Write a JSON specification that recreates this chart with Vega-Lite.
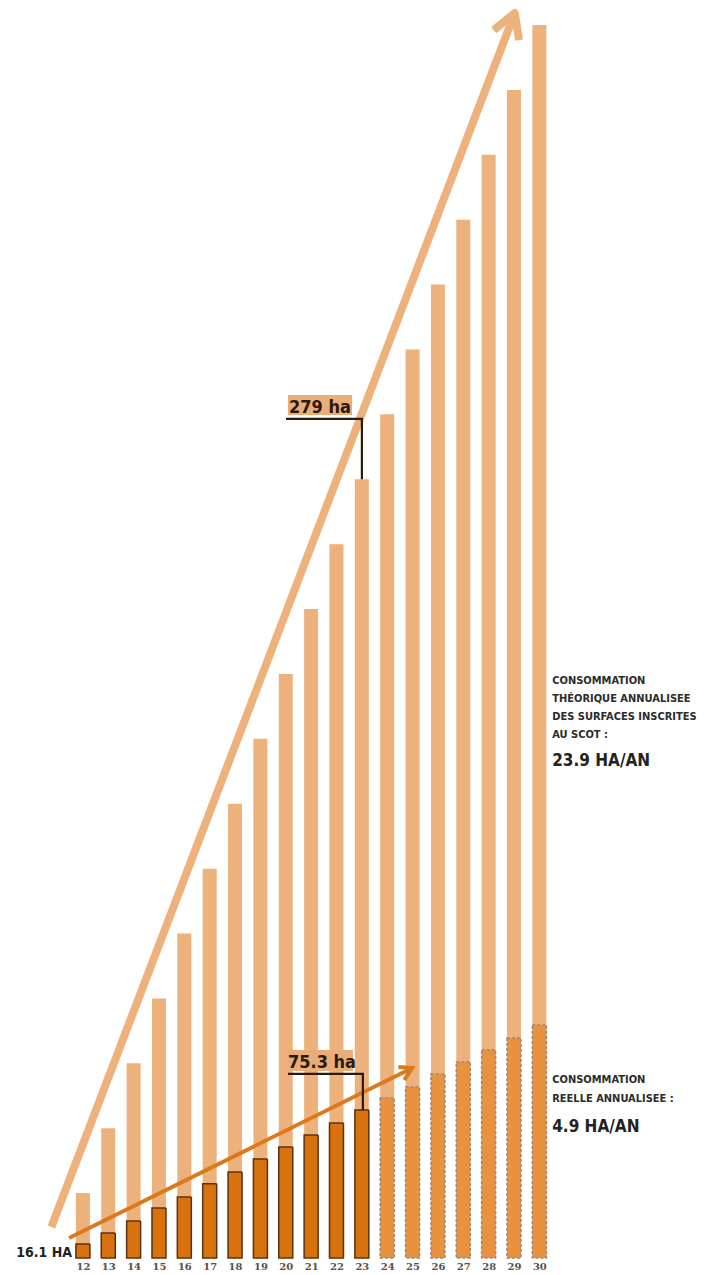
{
  "$schema": "https://vega.github.io/schema/vega-lite/v6.json",
  "width": 711,
  "height": 1275,
  "padding": 0,
  "autosize": {"type": "none"},
  "background": "white",
  "config": {"view": {"stroke": null}},
  "datasets": {
    "bars": [
      {"year": 12, "theo": 23.9, "real": 5.2, "phase": "réel"},
      {"year": 13, "theo": 47.8, "real": 9.2, "phase": "réel"},
      {"year": 14, "theo": 71.7, "real": 13.6, "phase": "réel"},
      {"year": 15, "theo": 95.6, "real": 18.4, "phase": "réel"},
      {"year": 16, "theo": 119.5, "real": 22.5, "phase": "réel"},
      {"year": 17, "theo": 143.4, "real": 27.3, "phase": "réel"},
      {"year": 18, "theo": 167.3, "real": 31.7, "phase": "réel"},
      {"year": 19, "theo": 191.2, "real": 36.5, "phase": "réel"},
      {"year": 20, "theo": 215.1, "real": 40.9, "phase": "réel"},
      {"year": 21, "theo": 239.0, "real": 45.3, "phase": "réel"},
      {"year": 22, "theo": 262.9, "real": 49.7, "phase": "réel"},
      {"year": 23, "theo": 286.8, "real": 54.5, "phase": "réel"},
      {"year": 24, "theo": 310.7, "real": 58.9, "phase": "projection"},
      {"year": 25, "theo": 334.6, "real": 63.0, "phase": "projection"},
      {"year": 26, "theo": 358.5, "real": 67.8, "phase": "projection"},
      {"year": 27, "theo": 382.4, "real": 72.2, "phase": "projection"},
      {"year": 28, "theo": 406.3, "real": 76.6, "phase": "projection"},
      {"year": 29, "theo": 430.2, "real": 81.0, "phase": "projection"},
      {"year": 30, "theo": 454.1, "real": 85.8, "phase": "projection"}
    ],
    "arrows": [
      {"grp": "theo_shaft", "ord": 1, "x": 10.756, "y": 11.4},
      {"grp": "theo_shaft", "ord": 2, "x": 29.03, "y": 458.5},
      {"grp": "theo_head", "ord": 1, "x": 28.2, "y": 452.2},
      {"grp": "theo_head", "ord": 2, "x": 29.03, "y": 458.5},
      {"grp": "theo_head", "ord": 3, "x": 29.2, "y": 448.5},
      {"grp": "real_shaft", "ord": 1, "x": 11.456, "y": 7.37},
      {"grp": "real_shaft", "ord": 2, "x": 24.986, "y": 69.97},
      {"grp": "real_head", "ord": 1, "x": 24.44, "y": 70.3},
      {"grp": "real_head", "ord": 2, "x": 24.986, "y": 69.97},
      {"grp": "real_head", "ord": 3, "x": 24.675, "y": 65.55}
    ],
    "brackets": [
      {"grp": "b279", "ord": 1, "x": 20.009, "y": 309.0},
      {"grp": "b279", "ord": 2, "x": 23.003, "y": 309.0},
      {"grp": "b279", "ord": 3, "x": 23.003, "y": 286.8},
      {"grp": "b75", "ord": 1, "x": 20.087, "y": 67.8},
      {"grp": "b75", "ord": 2, "x": 23.04, "y": 67.8},
      {"grp": "b75", "ord": 3, "x": 23.04, "y": 54.5}
    ],
    "boxes": [
      {"x": 20.087, "x2": 22.614, "y": 310.5, "y2": 317.8},
      {"x": 20.087, "x2": 22.65, "y": 68.9, "y2": 76.6}
    ],
    "labels": [
      {"x": 20.126, "y": 311.2, "text": "279 ha"},
      {"x": 20.087, "y": 70.0, "text": "75.3 ha"}
    ],
    "notes": [
      {"x": 30.507, "y": 211.4, "text": "CONSOMMATION"},
      {"x": 30.507, "y": 204.8, "text": "THÉORIQUE ANNUALISEE"},
      {"x": 30.507, "y": 198.1, "text": "DES SURFACES INSCRITES"},
      {"x": 30.507, "y": 191.5, "text": "AU SCOT :"},
      {"x": 30.507, "y": 64.4, "text": "CONSOMMATION"},
      {"x": 30.507, "y": 57.5, "text": "REELLE ANNUALISEE :"}
    ],
    "bignotes": [
      {"x": 30.507, "y": 181.2, "text": "23.9 HA/AN"},
      {"x": 30.507, "y": 46.4, "text": "4.9 HA/AN"}
    ],
    "start": [
      {"x": 11.572, "y": 0.4, "text": "16.1 HA"}
    ]
  },
  "encoding": {
    "x": {
      "field": "x",
      "type": "quantitative",
      "scale": {"domain": [8.928, 36.572], "nice": false, "zero": false},
      "axis": {
        "values": [12, 13, 14, 15, 16, 17, 18, 19, 20, 21, 22, 23, 24, 25, 26, 27, 28, 29, 30],
        "format": "d",
        "offset": -17,
        "domain": false,
        "ticks": false,
        "grid": false,
        "labelFont": "DejaVu Serif",
        "labelFontSize": 10,
        "labelFontWeight": "bold",
        "labelColor": "#5A5048",
        "labelPadding": 3,
        "title": null
      }
    },
    "y": {
      "field": "y",
      "type": "quantitative",
      "scale": {"domain": [-6.26, 463.3], "nice": false, "zero": false},
      "axis": null
    }
  },
  "layer": [
    {
      "data": {"name": "bars"},
      "mark": {"type": "bar", "size": 14, "color": "#EDB27C"},
      "encoding": {
        "x": {"field": "year", "type": "quantitative"},
        "y": {"field": "theo", "type": "quantitative"},
        "y2": {"datum": 0}
      }
    },
    {
      "data": {"name": "bars"},
      "mark": {"type": "bar", "size": 14, "strokeWidth": 1.5},
      "encoding": {
        "x": {"field": "year", "type": "quantitative"},
        "y": {"field": "real", "type": "quantitative"},
        "y2": {"datum": 0},
        "color": {
          "field": "phase",
          "type": "nominal",
          "scale": {"domain": ["réel", "projection"], "range": ["#D8720F", "#E8923F"]},
          "legend": null
        },
        "stroke": {
          "field": "phase",
          "type": "nominal",
          "scale": {"domain": ["réel", "projection"], "range": ["#5A3310", "#A08878"]},
          "legend": null
        },
        "strokeDash": {
          "field": "phase",
          "type": "nominal",
          "scale": {"domain": ["réel", "projection"], "range": [[1, 0], [3, 2]]},
          "legend": null
        }
      }
    },
    {
      "data": {"name": "arrows"},
      "transform": [{"filter": "datum.grp === 'theo_shaft' || datum.grp === 'theo_head'"}],
      "mark": {"type": "line", "color": "#EDB27C", "strokeWidth": 8, "strokeCap": "butt", "strokeJoin": "round"},
      "encoding": {
        "detail": {"field": "grp", "type": "nominal"},
        "order": {"field": "ord", "type": "quantitative"}
      }
    },
    {
      "data": {"name": "arrows"},
      "transform": [{"filter": "datum.grp === 'real_shaft' || datum.grp === 'real_head'"}],
      "mark": {"type": "line", "color": "#DB7A1C", "strokeWidth": 4, "strokeCap": "butt", "strokeJoin": "miter"},
      "encoding": {
        "detail": {"field": "grp", "type": "nominal"},
        "order": {"field": "ord", "type": "quantitative"}
      }
    },
    {
      "data": {"name": "boxes"},
      "mark": {"type": "rect", "color": "#E9AD78"},
      "encoding": {
        "x2": {"field": "x2"},
        "y2": {"field": "y2"}
      }
    },
    {
      "data": {"name": "brackets"},
      "mark": {"type": "line", "color": "#2A1A0E", "strokeWidth": 2.2, "strokeJoin": "miter"},
      "encoding": {
        "detail": {"field": "grp", "type": "nominal"},
        "order": {"field": "ord", "type": "quantitative"}
      }
    },
    {
      "data": {"name": "labels"},
      "mark": {"type": "text", "align": "left", "baseline": "alphabetic", "font": "DejaVu Sans Condensed, sans-serif", "fontWeight": "bold", "fontSize": 18, "color": "#2A1A0E"},
      "encoding": {"text": {"field": "text"}}
    },
    {
      "data": {"name": "notes"},
      "mark": {"type": "text", "align": "left", "baseline": "alphabetic", "font": "DejaVu Sans Condensed, sans-serif", "fontWeight": "bold", "fontSize": 11, "color": "#2B2B2B"},
      "encoding": {"text": {"field": "text"}}
    },
    {
      "data": {"name": "bignotes"},
      "mark": {"type": "text", "align": "left", "baseline": "alphabetic", "font": "DejaVu Sans Condensed, sans-serif", "fontWeight": "bold", "fontSize": 17, "color": "#222222"},
      "encoding": {"text": {"field": "text"}}
    },
    {
      "data": {"name": "start"},
      "mark": {"type": "text", "align": "right", "baseline": "alphabetic", "font": "DejaVu Sans Condensed, sans-serif", "fontWeight": "bold", "fontSize": 14, "color": "#222222"},
      "encoding": {"text": {"field": "text"}}
    }
  ]
}
